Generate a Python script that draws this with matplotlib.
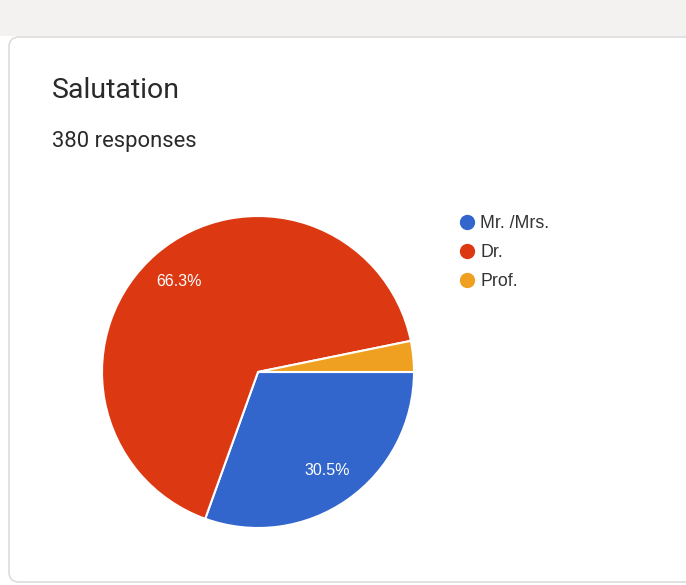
import matplotlib
matplotlib.use("Agg")
import matplotlib.pyplot as plt
from matplotlib.patches import FancyBboxPatch, Rectangle
from matplotlib.lines import Line2D

plt.rcParams['font.family'] = ['Roboto', 'DejaVu Sans']

# data
labels = ['Mr. /Mrs.', 'Dr.', 'Prof.']
shares = [30.5, 66.3, 3.2]
colors = ['#3366cc', '#dc3912', '#f0a020']
title = 'Salutation'
subtitle = '380 responses'

W, H = 686, 585
fig = plt.figure(figsize=(W / 100, H / 100), dpi=100)
fig.patch.set_facecolor('white')

# page background strip + card
bg = fig.add_axes([0, 0, 1, 1])
bg.set_xlim(0, W)
bg.set_ylim(H, 0)
bg.axis('off')
bg.add_patch(Rectangle((0, 0), W, 36, facecolor='#f3f2f1', edgecolor='none'))
bg.add_patch(FancyBboxPatch((9, 37), W + 40, H - 40, boxstyle='round,pad=0,rounding_size=10',
                            facecolor='white', edgecolor='#dcdcdc', linewidth=1.2))
bg.text(52, 90, title, fontsize=20.5, color='#2a2a2a', va='center', ha='left')
bg.text(52, 142, subtitle, fontsize=15.8, color='#2a2a2a', va='center', ha='left')

# pie
cx, cy, r = 258, 372, 156
ax = fig.add_axes([(cx - r) / W, (H - cy - r) / H, 2 * r / W, 2 * r / H])
wedges, _, autotexts = ax.pie(
    shares, colors=colors, startangle=0, counterclock=False,
    autopct=lambda p: f'{p:.1f}%' if p > 5 else '', pctdistance=0.77,
    wedgeprops=dict(edgecolor='white', linewidth=1.5),
    textprops=dict(color='white', fontsize=11.5, family='Liberation Sans'))
ax.set_xlim(-1, 1)
ax.set_ylim(-1, 1)
ax.set_aspect('auto')

# legend
handles = [Line2D([0], [0], marker='o', color='none', markerfacecolor=c,
                  markeredgecolor=c, markersize=10) for c in colors]
fig.legend(handles, labels, loc='upper left', bbox_to_anchor=(444 / W, 1 - 199 / H),
           frameon=False, prop=dict(family='Liberation Sans', size=12.8),
           handlelength=0.8, handletextpad=0.35, labelspacing=0.68,
           labelcolor='#333333')

fig.savefig('out.png', dpi=100)
